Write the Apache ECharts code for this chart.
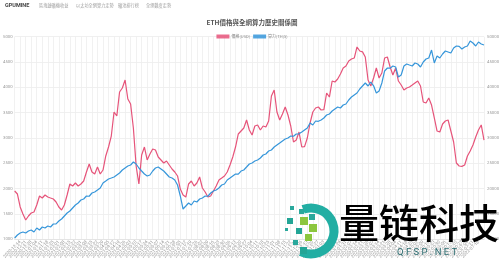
<!DOCTYPE html>
<html><head><meta charset="utf-8">
<script src="https://cdn.jsdelivr.net/npm/echarts@6/dist/echarts.min.js"></script>
<style>html,body{margin:0;padding:0;background:#fff}#c{width:504px;height:262px}</style>
</head><body><div id="c"></div>
<script>
const categories = [
'2020-12-07','2020-12-10','2020-12-14','2020-12-17','2020-12-21','2020-12-24','2020-12-28','2020-12-31',
'2021-01-04','2021-01-07','2021-01-11','2021-01-14','2021-01-18','2021-01-21','2021-01-25','2021-01-28',
'2021-02-01','2021-02-04','2021-02-08','2021-02-11','2021-02-15','2021-02-18','2021-02-22','2021-02-25',
'2021-03-01','2021-03-04','2021-03-08','2021-03-11','2021-03-15','2021-03-18','2021-03-22','2021-03-25','2021-03-29','2021-04-01',
'2021-04-05','2021-04-08','2021-04-12','2021-04-15','2021-04-19','2021-04-22','2021-04-26','2021-04-29',
'2021-05-03','2021-05-06','2021-05-10','2021-05-13','2021-05-17','2021-05-20','2021-05-24','2021-05-27','2021-05-31','2021-06-03',
'2021-06-07','2021-06-10','2021-06-14','2021-06-17','2021-06-21','2021-06-24','2021-06-28','2021-07-01',
'2021-07-05','2021-07-08','2021-07-12','2021-07-15','2021-07-19','2021-07-22','2021-07-26','2021-07-29',
'2021-08-02','2021-08-05','2021-08-09','2021-08-12','2021-08-16','2021-08-19','2021-08-23','2021-08-26','2021-08-30','2021-09-02',
'2021-09-06','2021-09-09','2021-09-13','2021-09-16','2021-09-20','2021-09-23','2021-09-27','2021-09-30',
'2021-10-04','2021-10-07','2021-10-11','2021-10-14','2021-10-18','2021-10-21','2021-10-25','2021-10-28',
'2021-11-01','2021-11-04','2021-11-08','2021-11-11','2021-11-15','2021-11-18','2021-11-22','2021-11-25','2021-11-29','2021-12-02',
'2021-12-06','2021-12-09','2021-12-13','2021-12-16','2021-12-20','2021-12-23','2021-12-27','2021-12-30',
'2022-01-03','2022-01-06','2022-01-10','2022-01-13','2022-01-17','2022-01-20','2022-01-24','2022-01-27','2022-01-31','2022-02-03',
'2022-02-07','2022-02-10','2022-02-14','2022-02-17','2022-02-21','2022-02-24','2022-02-28','2022-03-03',
'2022-03-07','2022-03-10','2022-03-14','2022-03-17','2022-03-21','2022-03-24','2022-03-28','2022-03-31',
'2022-04-04','2022-04-07','2022-04-11','2022-04-14','2022-04-18','2022-04-21','2022-04-25','2022-04-28',
'2022-05-02','2022-05-05','2022-05-09','2022-05-12','2022-05-16','2022-05-19','2022-05-23','2022-05-26','2022-05-30','2022-06-02',
'2022-06-06','2022-06-09','2022-06-13','2022-06-16','2022-06-20','2022-06-23','2022-06-27','2022-06-30',
'2022-07-04','2022-07-07','2022-07-11','2022-07-14','2022-07-18','2022-07-21','2022-07-25'
];
const priceUSD = [
1954,1894,1638,1500,1381,1460,1519,1539,1677,1855,
1815,1875,1835,1815,1796,1736,1638,1578,1677,1875,
2092,2052,2112,2052,2092,2151,2329,2487,2329,2289,
2427,2289,2368,2645,2822,3039,3513,3434,3908,3987,
4145,3770,3671,3197,2447,2092,2664,2822,2566,2684,
2783,2763,2625,2566,2506,2546,2467,2388,2329,2250,
1993,1875,1835,2092,2151,2052,2112,2230,2013,1934,
1835,1855,1954,2052,2171,2210,2250,2329,2467,2625,
2822,3079,3138,3197,3355,3158,3059,3237,3257,3158,
3237,3217,3336,3829,3948,3513,3355,3474,3612,3454,
3237,2921,2960,3118,2822,2830,3000,3296,3513,3592,
3612,3553,3560,3888,3809,4125,4106,4165,4264,4382,
4421,4520,4560,4579,4797,4718,4700,4599,4145,4027,
4185,4382,4185,4283,4579,4599,4402,4244,4382,4125,
4046,3948,3987,4007,4046,4086,4125,4027,3711,3691,
3790,3651,3395,3138,3118,3276,3336,3355,3138,2921,
2506,2447,2440,2467,2645,2743,2862,3020,3158,3257,
2960
];
const hashrate = [
10260,10850,11240,11440,11240,11640,11840,11440,12230,11840,
12430,12230,12630,12430,13020,13060,13610,14010,14600,15190,
15590,16180,16770,17170,17760,17960,18550,18500,19140,19340,
19730,20130,21120,21510,21910,22100,22300,22700,23090,23680,
24080,24470,24670,25260,24870,24080,23480,22890,22500,22700,
23480,24080,24270,23880,23480,22890,22300,22100,21710,20720,
18550,15980,16570,17170,16770,17560,17360,17960,18150,18550,
18500,19140,19540,19730,20130,20720,20920,21710,22100,22500,
22890,22850,23480,23680,24270,24870,25060,25460,25660,26050,
26640,26840,27430,27630,28220,28620,29010,29410,29800,30000,
30400,30350,30790,30820,31180,31580,31970,32960,32570,33360,
33300,33550,33950,34540,34740,35330,35730,36120,35920,36520,
36710,37500,38090,38490,38880,39670,40270,40860,40270,41060,
40300,38880,39280,40860,43230,43820,43780,44220,44020,42040,
42440,44220,44610,44410,44220,44810,44610,44020,45000,45600,
45790,47370,44810,46190,45790,46580,47180,46980,46780,47770,
48160,48100,47570,47970,48160,49150,48760,48160,48950,48560,
48360
];
const leftTicks = [1000,1500,2000,2500,3000,3500,4000,4500,5000];
const rightTicks = [10000,15000,20000,25000,30000,35000,40000,45000,50000];
const seriesNames = ['價格(USD)','算力(TH/s)'];
const titleText = 'ETH價格與全網算力歷史關係圖';
const brand = 'GPUMINE';
const navItems = ['區塊鏈礦機收益','以太坊全網算力走勢','礦池排行榜','全網難度走勢'];
const watermarkText = '量链科技';
const watermarkSub = 'QFSP.NET';

const RED = 'rgb(230,84,122)';
const BLUE = 'rgb(54,150,218)';
const chart = echarts.init(document.getElementById('c'), null, {renderer:'canvas'});
const navX = [39, 76, 118, 146];
const graphics = [
  {type:'text', left:5, top:3, style:{text:brand, font:'bold 5.5px Roboto', fill:'#444'}},
];
navItems.forEach((t,i)=>graphics.push({type:'text', left:navX[i], top:3.7, style:{text:t, fontSize:4.2, fontFamily:'Noto Sans CJK TC', fill:'#a0a0a0'}}));
graphics.push(
  {type:'arc', shape:{cx:311, cy:231, r:23, startAngle:-Math.PI/2-0.35, endAngle:Math.PI/2+0.45}, style:{stroke:'#22aea3', lineWidth:9, fill:null}, z:100},
  {type:'rect', shape:{x:290,y:206,width:4,height:4}, style:{fill:'#2aa89c'}, z:100},
  {type:'rect', shape:{x:299,y:209,width:5,height:5}, style:{fill:'#2aa89c'}, z:100},
  {type:'rect', shape:{x:287,y:218,width:6,height:6}, style:{fill:'#23a596'}, z:100},
  {type:'rect', shape:{x:300,y:217,width:8,height:8}, style:{fill:'#8cc63e'}, z:100},
  {type:'rect', shape:{x:309,y:214,width:6,height:6}, style:{fill:'#2aa89c'}, z:100},
  {type:'rect', shape:{x:285,y:228,width:3,height:3}, style:{fill:'#2aa89c'}, z:100},
  {type:'rect', shape:{x:296,y:228,width:6,height:6}, style:{fill:'#23a596'}, z:100},
  {type:'rect', shape:{x:309,y:224,width:8,height:8}, style:{fill:'#8cc63e'}, z:100},
  {type:'rect', shape:{x:305,y:234,width:7,height:7}, style:{fill:'#8cc63e'}, z:100},
  {type:'rect', shape:{x:293,y:240,width:5,height:5}, style:{fill:'#2aa89c'}, z:100},
  {type:'rect', shape:{x:300,y:247,width:7,height:7}, style:{fill:'#23a596'}, z:100},
  {type:'text', left:339, top:203, style:{text:watermarkText, fontSize:40, fontFamily:'Noto Sans CJK SC', fontWeight:500,
     fill:new echarts.graphic.LinearGradient(0,0,1,1,[{offset:0,color:'#1fae9f'},{offset:1,color:'#35b7a6'}])}, z:100},
  {type:'text', left:397, top:248, style:{text:watermarkSub.split('').join(' '), fontSize:9.5, fontFamily:'Roboto', fill:'#2d6e72'}, z:100}
);
chart.setOption({
  animation:false,
  backgroundColor:'#fff',
  title:{text:titleText, left:'center', top:14, textStyle:{fontSize:6.5, fontFamily:'Noto Sans CJK TC', color:'#555', fontWeight:'bold'}},
  legend:{top:29.5, left:'center', itemWidth:13, itemHeight:4, itemGap:3, icon:'rect',
    textStyle:{fontSize:4, color:'#888', fontFamily:'Noto Sans CJK TC', padding:[0,0,0,-3]},
    data:seriesNames},
  grid:{left:14, right:20, top:36.7, bottom:22.7},
  xAxis:{type:'category', data:categories, boundaryGap:false,
    axisLine:{lineStyle:{color:'#e4e4e4'}}, axisTick:{show:false},
    splitLine:{show:true, interval:1, lineStyle:{color:'#eeeeee', width:0.8}},
    axisLabel:{interval:1, rotate:45, fontSize:4.5, color:'#999', margin:2, fontFamily:'Roboto'}},
  yAxis:[
    {type:'value', position:'left', min:leftTicks[0], max:leftTicks[leftTicks.length-1], interval:leftTicks[1]-leftTicks[0],
     axisLine:{show:false}, axisTick:{show:false},
     splitLine:{lineStyle:{color:'#ececec', width:0.8}},
     axisLabel:{fontSize:4.3, color:'#999', margin:2, fontFamily:'Roboto', formatter:v=>String(v)}},
    {type:'value', position:'right', min:rightTicks[0], max:rightTicks[rightTicks.length-1], interval:rightTicks[1]-rightTicks[0],
     axisLine:{show:false}, axisTick:{show:false}, splitLine:{show:false},
     axisLabel:{fontSize:4.3, color:'#999', margin:3, fontFamily:'Roboto', formatter:v=>String(v)}}
  ],
  series:[
    {name:seriesNames[0], type:'line', yAxisIndex:0, data:priceUSD, showSymbol:false, symbol:'none',
     lineStyle:{color:RED, width:1.2}, itemStyle:{color:'rgba(230,84,122,0.85)', borderColor:RED}},
    {name:seriesNames[1], type:'line', yAxisIndex:1, data:hashrate, showSymbol:false, symbol:'none',
     lineStyle:{color:BLUE, width:1.2}, itemStyle:{color:'rgba(54,150,218,0.85)', borderColor:BLUE}}
  ],
  graphic:graphics
});
</script></body></html>
